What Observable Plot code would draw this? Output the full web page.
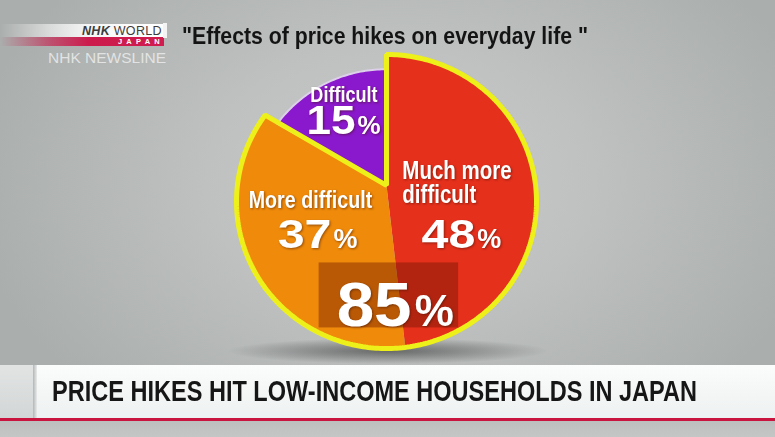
<!DOCTYPE html>
<html>
<head>
<meta charset="utf-8">
<script src="https://cdn.jsdelivr.net/npm/d3@7"></script>
<script src="https://cdn.jsdelivr.net/npm/@observablehq/plot@0.6"></script>
<style>
  html, body { margin: 0; padding: 0; background: #a9adab; }
  #stage {
    position: relative; width: 775px; height: 437px; overflow: hidden;
    background:
      radial-gradient(ellipse 160px 13px at 388px 351px, rgba(35,35,35,0.55) 0%, rgba(35,35,35,0.25) 55%, rgba(35,35,35,0) 100%),
      radial-gradient(ellipse 430px 300px at 400px 180px, #cacccb 0%, #bec1c0 45%, #aaaead 100%);
    font-family: "Liberation Sans", Arial, sans-serif;
  }
  #chart { position: absolute; left: 0; top: 0; }
  .narrow { font-family: "Liberation Sans", Arial, sans-serif; font-weight: bold; white-space: nowrap; }
  #title { position: absolute; left: 182px; top: 22px; font-size: 24px; line-height: 28px; color: #141414; transform-origin: 0 0; }
  #logoWhite { position: absolute; left: 0; top: 24px; width: 164px; height: 13px;
    background: linear-gradient(to right, rgba(255,255,255,0) 0%, rgba(255,255,255,0.55) 30%, #f6f6f6 55%, #ffffff 100%); }
  #logoRed { position: absolute; left: 0; top: 37px; width: 164px; height: 9px;
    background: linear-gradient(to right, rgba(200,20,70,0) 0%, rgba(200,20,70,0.6) 30%, #cc1a4c 55%, #d01c4e 100%); }
  #logoTick { position: absolute; left: 163px; top: 23px; width: 4px; height: 15px; background: #f4f4f4; }
  #nhkWorld { position: absolute; left: 82px; top: 24px; font-size: 12.5px; line-height: 14px; color: #3c3c3c; white-space: nowrap; letter-spacing: 0.3px; }
  #nhkWorld b { font-style: italic; font-weight: 900; }
  #japan { position: absolute; left: 118px; top: 38px; font-size: 7.5px; line-height: 8px; font-weight: bold; color: #fff; letter-spacing: 4.2px; }
  #newsline { position: absolute; left: 48px; top: 49px; font-size: 15.5px; line-height: 17px; color: rgba(236,236,236,0.85); white-space: nowrap; }
  #bannerLeft { position: absolute; left: 0; top: 365px; width: 33px; height: 53px; background: linear-gradient(#e2e4e4, #d3d6d6); }
  #bannerDiv { position: absolute; left: 33px; top: 365px; width: 4px; height: 53px; background: linear-gradient(to right, #b3b6b6, #e9ebeb); }
  #banner { position: absolute; left: 37px; top: 365px; width: 738px; height: 53px; background: linear-gradient(#fbfcfc, #eef1f1); }
  #redLine { position: absolute; left: 0; top: 418px; width: 775px; height: 3px; background: #c8143e; }
  #bottomGray { position: absolute; left: 0; top: 421px; width: 775px; height: 16px; background: linear-gradient(#bcbfbe, #c3c6c5); }
  #headline { position: absolute; left: 52px; top: 374px; font-size: 30px; line-height: 34px; color: #161616; transform-origin: 0 0; }
</style>
</head>
<body>
<div id="stage">
  <div id="chart"></div>
  <div id="logoWhite"></div>
  <div id="logoRed"></div>
  <div id="logoTick"></div>
  <div id="nhkWorld"><b>NHK</b> WORLD</div>
  <div id="japan">JAPAN</div>
  <div id="newsline">NHK NEWSLINE</div>
  <div id="title" class="narrow">"Effects of price hikes on everyday life "</div>
  <div id="bannerLeft"></div>
  <div id="bannerDiv"></div>
  <div id="banner"></div>
  <div id="redLine"></div>
  <div id="bottomGray"></div>
  <div id="headline" class="narrow">PRICE HIKES HIT LOW-INCOME HOUSEHOLDS IN JAPAN</div>
</div>
<script>
// ---- data ----
const categories = ["Much more difficult", "More difficult", "Difficult"];
const shares = [48, 37, 15];
const labelLines = [["Much more", "difficult"], ["More difficult"], ["Difficult"]];
const colors = ["#e5301c", "#ef8a0b", "#8a18cc"];
const combinedCategories = ["Much more difficult", "More difficult"];

// ---- layout (not data) ----
const apex = 0.11;               // perspective offset of the pie apex
const rimRadius = [1, 1, 0.9];   // purple slice sits back
const labelR = 0.5;
const narrowFactor = 0.82;       // emulates a condensed face
const nameLayout = [
  {dx: -59, dy: 6.6, anchor: "start", size: 25, gap: 24},
  {dx: -11.5, dy: -31.4, anchor: "middle", size: 24, gap: 0},
  {dx: -8.5, dy: -33.6, anchor: "middle", size: 22, gap: 0}
];
const numLayout = [
  {dx: 14, dy: 51, size: 41, pct: 27, stretch: 1.18},
  {dx: 9.5, dy: 9, size: 41, pct: 27, stretch: 1.18},
  {dx: 3, dy: -1.6, size: 40, pct: 26, stretch: 1.1}
];

// ---- derived geometry ----
const starts = [];
{ let acc = 0; for (const s of shares) { starts.push(acc); acc += s; } }
const toDeg = p => p / 100 * 360;
const rad = a => a * Math.PI / 180;

function sectorPoints(key, p0, p1, r) {
  const a0 = toDeg(p0), a1 = toDeg(p1);
  const n = Math.max(2, Math.ceil(a1 - a0));
  const pts = [{key, x: 0, y: apex}];
  for (let k = 0; k <= n; k++) {
    const a = rad(a0 + (a1 - a0) * k / n);
    pts.push({key, x: r * Math.sin(a), y: r * Math.cos(a)});
  }
  pts.push({key, x: 0, y: apex});
  return pts;
}

const slicePts = categories.flatMap((c, i) => sectorPoints(c, starts[i], starts[i] + shares[i], rimRadius[i]));
const combinedShare = combinedCategories.reduce((s, c) => s + shares[categories.indexOf(c)], 0);
const outlinePts = sectorPoints("combined", 0, combinedShare, 1);

const slices = categories.map((c, i) => {
  const m = rad(toDeg(starts[i] + shares[i] / 2));
  return {category: c, share: shares[i], x: labelR * Math.sin(m), y: labelR * Math.cos(m)};
});

const bAngle = rad(toDeg(shares[0]));
const combo = [{value: combinedShare, x: 0.645 * Math.sin(bAngle), y: 0.645 * Math.cos(bAngle)}];

const font = '"Liberation Sans", Arial, sans-serif';
const shadow = "drop-shadow(1px 1px 1px rgba(60,15,0,0.5))";

const marks = [];
const stretch = [];
function add(mark, f = null) { marks.push(mark); stretch.push(f); }

add(Plot.line(slicePts, {x: "x", y: "y", z: "key", fill: "key", stroke: null, curve: "linear-closed"}));
add(Plot.line(slicePts.filter(d => d.key === "Difficult"), {x: "x", y: "y", curve: "linear-closed", stroke: "#ddd0ea", strokeWidth: 2, fill: "none"}));
add(Plot.line(outlinePts, {x: "x", y: "y", curve: "linear-closed", stroke: "#eef01a", strokeWidth: 5, fill: "none", strokeLinejoin: "miter"}));
add(Plot.rect(combo, {x1: d => d.x - 0.53, x2: d => d.x + 0.40, y1: d => d.y - 0.22, y2: d => d.y + 0.222, fill: "#6e1600", fillOpacity: 0.42}));
add(Plot.text(combo, {x: "x", y: "y", text: d => String(d.value), dx: 13, dy: 30, textAnchor: "end", lineAnchor: "bottom", fill: "white", fontSize: 63, fontWeight: "bold", fontFamily: font, imageFilter: shadow}), 1.07);
add(Plot.text(combo, {x: "x", y: "y", text: () => "%", dx: 16, dy: 30, textAnchor: "start", lineAnchor: "bottom", fill: "white", fontSize: 44, fontWeight: "bold", fontFamily: font, imageFilter: shadow}));

slices.forEach((s, i) => {
  const nl = nameLayout[i], ul = numLayout[i];
  const lines = labelLines[i];
  lines.forEach((line, j) => {
    add(Plot.text([s], {x: "x", y: "y", text: () => line, dx: nl.dx, dy: nl.dy - (lines.length - 1 - j) * nl.gap, textAnchor: nl.anchor, lineAnchor: "bottom", fill: "white", fontSize: nl.size, fontWeight: "bold", fontFamily: font, imageFilter: shadow}), narrowFactor);
  });
  add(Plot.text([s], {x: "x", y: "y", text: d => String(d.share), dx: ul.dx, dy: ul.dy, textAnchor: "end", lineAnchor: "bottom", fill: "white", fontSize: ul.size, fontWeight: "bold", fontFamily: font, imageFilter: shadow}), ul.stretch);
  add(Plot.text([s], {x: "x", y: "y", text: () => "%", dx: ul.dx + 2, dy: ul.dy, textAnchor: "start", lineAnchor: "bottom", fill: "white", fontSize: ul.pct, fontWeight: "bold", fontFamily: font, imageFilter: shadow}));
});

const chart = Plot.plot({
  width: 775,
  height: 437,
  margin: 0,
  x: {domain: [-1, 1], range: [236, 536], axis: null},
  y: {domain: [-1, 1], range: [348, 54], axis: null},
  color: {domain: categories, range: colors},
  style: {background: "transparent", overflow: "visible"},
  marks
});
document.getElementById("chart").appendChild(chart);

// horizontal width adjustment of text (condensed face emulation)
const groups = [...chart.children].filter(n => n.tagName.toLowerCase() === "g");
if (groups.length === marks.length) {
  groups.forEach((g, i) => {
    const f = stretch[i];
    if (!f) return;
    g.querySelectorAll("text").forEach(t => {
      const w = t.getComputedTextLength();
      if (w > 0) { t.setAttribute("textLength", (w * f).toFixed(1)); t.setAttribute("lengthAdjust", "spacingAndGlyphs"); }
    });
  });
}

function fitWidth(id, w) {
  const el = document.getElementById(id);
  const nat = el.getBoundingClientRect().width;
  if (nat > 0) el.style.transform = `scaleX(${w / nat})`;
}
fitWidth("title", 406);
fitWidth("headline", 645);
</script>
</body>
</html>
